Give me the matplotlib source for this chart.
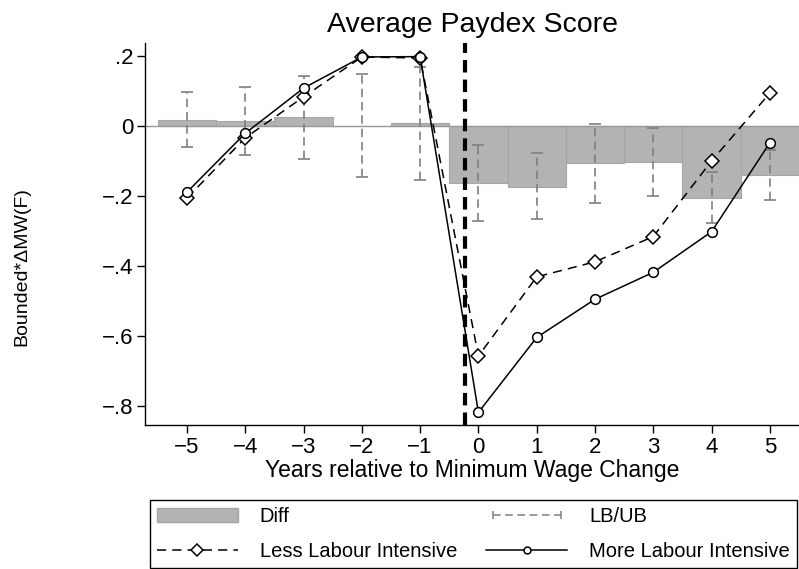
import matplotlib.pyplot as plt
from matplotlib.lines import Line2D
from matplotlib.patches import Patch
from matplotlib.legend_handler import HandlerLine2D
from matplotlib.ticker import FuncFormatter
import numpy as np

plt.rcParams['font.family'] = ['Liberation Sans', 'DejaVu Sans']

years = [-5, -4, -3, -2, -1, 0, 1, 2, 3, 4, 5]
less_li = [-0.206, -0.034, 0.083, 0.197, 0.194, -0.657, -0.431, -0.388, -0.316, -0.100, 0.094]
more_li = [-0.189, -0.021, 0.108, 0.197, 0.198, -0.818, -0.604, -0.495, -0.418, -0.302, -0.048]
diff = [0.018, 0.015, 0.026, 0.001, 0.007, -0.163, -0.174, -0.106, -0.103, -0.205, -0.140]
lb = [-0.060, -0.083, -0.094, -0.146, -0.154, -0.271, -0.266, -0.221, -0.200, -0.277, -0.211]
ub = [0.097, 0.111, 0.143, 0.149, 0.169, -0.054, -0.077, 0.006, -0.006, -0.131, -0.069]
event_line = -0.23

fig = plt.figure(figsize=(7.99, 5.69), dpi=100)
ax = fig.add_axes([0.1815, 0.2531, 0.8185, 0.6714])

ax.bar(years, diff, width=1.0, color='#b3b3b3', edgecolor='#a6a6a6', linewidth=0.8, zorder=1)
ax.axhline(0, color='#999999', lw=1.0, zorder=1.5)

# confidence bounds
ax.vlines(years, lb, ub, colors='#7f7f7f', linestyles=(0, (5, 3)), lw=1.2, zorder=2)
ax.plot(years, lb, ls='none', marker='_', ms=8, mew=1.2, color='#7f7f7f', zorder=2)
ax.plot(years, ub, ls='none', marker='_', ms=8, mew=1.2, color='#7f7f7f', zorder=2)

ax.axvline(event_line, color='black', lw=3, dashes=(3, 1.7), zorder=3)

ax.plot(years, less_li, color='black', lw=1.1, dashes=(6, 4), marker='D', ms=7.5,
        mfc='white', mec='black', mew=1.1, zorder=4)
ax.plot(years, more_li, color='black', lw=1.1, marker='o', ms=7,
        mfc='white', mec='black', mew=1.1, zorder=5)

ax.set_xlim(-5.72, 5.5)
ax.set_ylim(-0.854, 0.237)
ax.set_xticks(years)
ax.set_xticklabels([str(y).replace('-', '\u2212') for y in years])
ax.set_yticks([0.2, 0, -0.2, -0.4, -0.6, -0.8])


def fmt(v, pos):
    if abs(v) < 1e-9:
        return '0'
    s = ('%.1f' % v).replace('0.', '.')
    return s.replace('-', '\u2212')


ax.yaxis.set_major_formatter(FuncFormatter(fmt))
ax.tick_params(direction='out', length=5.5, width=1, labelsize=16, pad=3)
for side in ['top', 'right']:
    ax.spines[side].set_visible(False)
for side in ['left', 'bottom']:
    ax.spines[side].set_linewidth(1.0)

ax.set_title('Average Paydex Score', fontsize=20.5, pad=8)
ax.set_xlabel('Years relative to Minimum Wage Change', fontsize=16.5, labelpad=1)
fig.text(22 / 799, 1 - 267 / 569, 'Bounded*\u0394MW(F)', rotation=90,
         ha='center', va='center', fontsize=14)

h_diff = Patch(facecolor='#b3b3b3', edgecolor='#a6a6a6')
h_less = Line2D([], [], color='black', lw=1.1, dashes=(6, 4), marker='D', ms=6,
                mfc='white', mec='black', mew=1.1)
h_bounds = Line2D([], [], color='#7f7f7f', lw=1.1, dashes=(5, 3), marker='|', ms=6, mew=1.1)
h_more = Line2D([], [], color='black', lw=1.1, marker='o', ms=5, mfc='white',
                mec='black', mew=1.1)

leg = fig.legend([h_diff, h_less, h_bounds, h_more],
                 ['Diff', 'Less Labour Intensive', 'LB/UB', 'More Labour Intensive'],
                 ncol=2, loc='lower left', mode='expand',
                 bbox_to_anchor=(150 / 799, 0.002, 647 / 799, 0.12),
                 fontsize=14.5, handlelength=4, handletextpad=1.1, labelspacing=0.8,
                 borderpad=0.35, borderaxespad=0, fancybox=False, edgecolor='black',
                 framealpha=1, handler_map={h_bounds: HandlerLine2D(numpoints=2)})
leg.get_frame().set_linewidth(1.0)

fig.savefig('out.png', dpi=100)
